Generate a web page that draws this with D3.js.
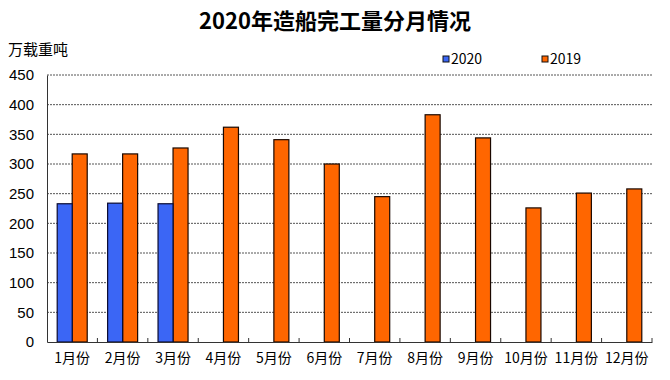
<!DOCTYPE html>
<html lang="zh">
    <head>
        <meta charset="utf-8">
        <title>2020年造船完工量分月情况</title>
        <style>
          body { margin: 0; background: #fff; }
          text { font-family: "Noto Sans CJK SC", "Liberation Sans", sans-serif; }
        </style>
    </head>
    <body>
        <div id="dataviz_area"></div>
    </body>
    <script src="https://d3js.org/d3.v7.min.js"></script>
    <script>
      var months = ["1月份", "2月份", "3月份", "4月份", "5月份", "6月份",
                    "7月份", "8月份", "9月份", "10月份", "11月份", "12月份"]
      var v2020 = [233, 234, 233]
      var v2019 = [317, 317, 327, 362, 341, 300, 245, 383, 344, 226, 251, 258]
      var yTicks = [0, 50, 100, 150, 200, 250, 300, 350, 400, 450]

      var W = 670, H = 380,
        margins = {top: 75, right: 18, bottom: 38, left: 47},
        width = W - margins.left - margins.right,
        height = H - margins.top - margins.bottom

      var root = d3.select("#dataviz_area")
        .append("svg")
          .attr("width", W)
          .attr("height", H)

      root.append("text")
        .attr("x", 335).attr("y", 29)
        .attr("text-anchor", "middle")
        .style("font-size", "22px").style("font-weight", "bold")
        .text("2020年造船完工量分月情况")

      root.append("text")
        .attr("x", 8).attr("y", 55)
        .style("font-size", "15px")
        .text("万载重吨")

      var svg = root.append("g")
        .attr("transform", "translate(" + margins.left + "," + margins.top + ")")

      var x = d3.scaleBand().domain(months).range([0, width])
      var y = d3.scaleLinear().domain([0, 450]).range([height, 0])
      var bw = 15

      // gridlines
      svg.selectAll(".grid").data(yTicks.slice(1)).enter()
        .append("line")
          .attr("x1", 0).attr("x2", width)
          .attr("y1", d => y(d)).attr("y2", d => y(d))
          .attr("stroke", "#555")
          .attr("stroke-width", 1)
          .attr("stroke-dasharray", "2,1")

      // y axis
      var yAxis = svg.append("g")
        .call(d3.axisLeft(y).tickValues(yTicks).tickSize(0).tickPadding(13))
      yAxis.select(".domain").attr("stroke", "#333")
      yAxis.selectAll("text")
        .style("font-family", "'Liberation Sans', Arial, sans-serif")
        .style("font-size", "15px").attr("fill", "#000")

      // bars 2019
      svg.selectAll(".b19").data(v2019).enter()
        .append("rect")
          .attr("x", (d, i) => x(months[i]) + x.bandwidth() / 2)
          .attr("y", d => y(d))
          .attr("width", bw)
          .attr("height", d => height - y(d))
          .attr("fill", "#ff6600")
          .attr("stroke", "#1a0800")
          .attr("stroke-width", 1.2)

      // bars 2020
      svg.selectAll(".b20").data(v2020).enter()
        .append("rect")
          .attr("x", (d, i) => x(months[i]) + x.bandwidth() / 2 - bw)
          .attr("y", d => y(d))
          .attr("width", bw)
          .attr("height", d => height - y(d))
          .attr("fill", "#3b66f5")
          .attr("stroke", "#0a0a30")
          .attr("stroke-width", 1.2)

      // x axis
      var xAxis = svg.append("g")
        .attr("transform", "translate(0," + height + ")")
        .call(d3.axisBottom(x).tickSize(0).tickPadding(11))
      xAxis.select(".domain").attr("stroke", "#333")
      xAxis.selectAll("text")
        .style("font-size", "14px").attr("fill", "#000")
      svg.selectAll(".xtick").data(months.slice(1)).enter()
        .append("line")
          .attr("x1", d => x(d)).attr("x2", d => x(d))
          .attr("y1", height).attr("y2", height - 4)
          .attr("stroke", "#333")
      svg.append("line")
        .attr("x1", width).attr("x2", width)
        .attr("y1", height).attr("y2", height - 4)
        .attr("stroke", "#333")

      // legend
      var legend = [{name: "2020", color: "#3b66f5"}, {name: "2019", color: "#ff6600"}]
      var lg = root.selectAll(".lg").data(legend).enter()
        .append("g")
          .attr("transform", (d, i) => "translate(" + (443 + i * 99) + ",56)")
      lg.append("rect")
        .attr("x", 0).attr("y", 0).attr("width", 6).attr("height", 6)
        .attr("fill", d => d.color).attr("stroke", "#111").attr("stroke-width", 1)
      lg.append("text")
        .attr("x", 8).attr("y", 8)
        .style("font-size", "14px")
        .text(d => d.name)
    </script>
</html>
